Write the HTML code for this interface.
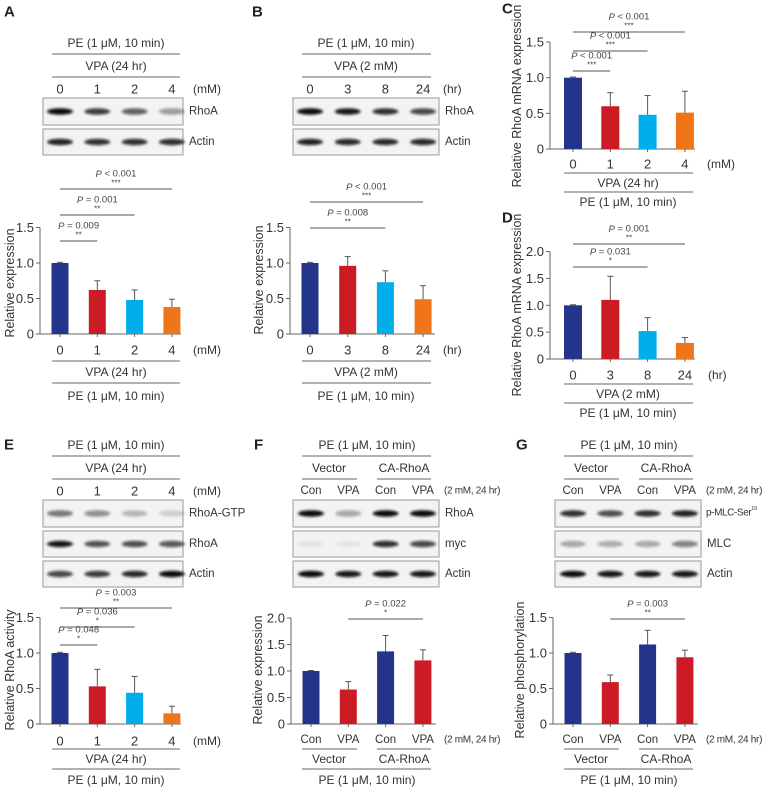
<!DOCTYPE html>
<html><head><meta charset="utf-8"><style>
html,body{margin:0;padding:0;background:#fff}
svg{display:block;font-family:"Liberation Sans",sans-serif}
</style></head><body>
<svg id="fig" width="764" height="787" viewBox="0 0 764 787">
<defs><filter id="blur" x="-50%" y="-200%" width="200%" height="500%"><feGaussianBlur stdDeviation="1.3"/></filter></defs>
</svg>
<script>
// ---- chart data ----
const aCats=["0","1","2","4"], aVals=[1.0,0.62,0.48,0.38], aErrs=[0.01,0.13,0.14,0.11];
const bCats=["0","3","8","24"], bVals=[1.0,0.96,0.73,0.49], bErrs=[0.01,0.13,0.16,0.19];
const cCats=["0","1","2","4"], cVals=[1.0,0.60,0.48,0.51], cErrs=[0.01,0.19,0.27,0.30];
const dCats=["0","3","8","24"], dVals=[1.0,1.10,0.52,0.30], dErrs=[0.01,0.44,0.25,0.10];
const eCats=["0","1","2","4"], eVals=[1.0,0.53,0.44,0.15], eErrs=[0.01,0.24,0.23,0.10];
const fCats=["Con","VPA","Con","VPA"], fVals=[1.0,0.65,1.37,1.20], fErrs=[0.01,0.15,0.30,0.20];
const gCats=["Con","VPA","Con","VPA"], gVals=[1.0,0.59,1.12,0.94], gErrs=[0.01,0.10,0.20,0.10];
const ticks15=[0,0.5,1.0,1.5], ticks15Labels=["0","0.5","1.0","1.5"];
const ticks20=[0,0.5,1.0,1.5,2.0], ticks20Labels=["0","0.5","1.0","1.5","2.0"];
const aSigTo=[3,2,1], aSigP=["< 0.001","= 0.001","= 0.009"], aSigS=["***","**","**"];
const bSigTo=[3,2], bSigP=["< 0.001","= 0.008"], bSigS=["***","**"];
const cSigTo=[3,2,1], cSigP=["< 0.001","< 0.001","< 0.001"], cSigS=["***","***","***"];
const dSigTo=[3,2], dSigP=["= 0.001","= 0.031"], dSigS=["**","*"];
const eSigTo=[3,2,1], eSigP=["= 0.003","= 0.036","= 0.048"], eSigS=["**","*","*"];
const fSigTo=[3], fSigP=["= 0.022"], fSigS=["*"];
const gSigTo=[3], gSigP=["= 0.003"], gSigS=["**"];
const C4=["#24348a","#cc1b24","#00aeeb","#f07418"], CF=["#24348a","#cc1b24","#24348a","#cc1b24"];

const NS="http://www.w3.org/2000/svg";
const svg=document.getElementById('fig');
function mk(tag,attrs,name,parent){
  const el=document.createElementNS(NS,tag);
  for(const k in attrs) el.setAttribute(k,attrs[k]);
  
  
  (parent||svg).appendChild(el); return el;
}
function txt(x,y,s,name,o){o=o||{};
  const el=mk('text',{x:x,y:y,'font-size':o.fs||12,'text-anchor':o.anchor||'middle',fill:o.fill||'#333','font-weight':o.fw||'normal','dominant-baseline':'central'},name,o.parent);
  if(o.ls) el.setAttribute('letter-spacing',o.ls);
  el.textContent=s; return el;}
function ln(x1,y1,x2,y2,name,c,w){return mk('line',{x1:x1,y1:y1,x2:x2,y2:y2,stroke:c||'#666','stroke-width':w||1},name);}

function chart(id,cfg,cats,vals,errs,ticks,tlabels,colors,sigTo,sigP,sigS){
  const g=mk('g',{},id+'-chart');
  const y=v=>cfg.y0-v*cfg.ppu;
  const x=i=>cfg.xc0+i*cfg.step;
  mk('line',{x1:cfg.x0,y1:y(ticks[ticks.length-1]),x2:cfg.x0,y2:cfg.y0,stroke:'#666'},id+'-y-axis',g);
  ticks.forEach((t,i)=>{
    mk('line',{x1:cfg.x0-4,y1:y(t),x2:cfg.x0,y2:y(t),stroke:'#666'},id+'-y-tick',g);
    txt(cfg.x0-6,y(t),tlabels[i],id+'-y-tick-label',{fs:13,anchor:'end',parent:g});
  });
  mk('line',{x1:cfg.x0,y1:cfg.y0,x2:cfg.xEnd,y2:cfg.y0,stroke:'#666'},id+'-x-axis',g);
  vals.forEach((v,i)=>{
    const top=v+errs[i];
    mk('line',{x1:x(i),y1:y(v),x2:x(i),y2:y(top),stroke:'#555'},id+'-error-bar',g);
    mk('line',{x1:x(i)-3,y1:y(top),x2:x(i)+3,y2:y(top),stroke:'#555'},id+'-error-cap',g);
    mk('rect',{x:x(i)-cfg.bw/2,y:y(v),width:cfg.bw,height:v*cfg.ppu,fill:colors[i]},id+'-bar-'+i,g);
    mk('line',{x1:x(i),y1:cfg.y0,x2:x(i),y2:cfg.y0+3,stroke:'#666'},id+'-x-tick',g);
    txt(x(i),cfg.labY,cats[i],id+'-x-label',{fs:cfg.catFs||13,parent:g});
  });
  sigTo.forEach((j,k)=>{
    const ly=cfg.sigY[k], from=cfg.sigFrom||0;
    mk('line',{x1:x(from),y1:ly,x2:x(j),y2:ly,stroke:'#555'},id+'-sig-line',g);
    const t=mk('text',{x:(x(from)+x(j))/2,y:ly-15,'font-size':9.5,'text-anchor':'middle',fill:'#444','dominant-baseline':'central'},id+'-p-value',g);
    const ts=document.createElementNS(NS,'tspan'); ts.setAttribute('font-style','italic'); ts.textContent='P'; t.appendChild(ts);
    t.appendChild(document.createTextNode(' '+sigP[k]));
    txt((x(from)+x(j))/2,ly-6,sigS[k],id+'-stars',{fs:8,parent:g,fill:'#444'});
  });
  const yl=mk('text',{x:0,y:0,'font-size':12.5,'text-anchor':'middle',fill:'#333','dominant-baseline':'central',transform:'translate('+cfg.ylX+','+cfg.ylY+') rotate(-90)'},id+'-y-axis-title',g);
  yl.textContent=cfg.ylabel;
}
function blot(id,x,y,w,h,lanes,ints,label,name){
  mk('rect',{x:x,y:y,width:w,height:h,fill:'#f3f3f3',stroke:'#999'},id+'-blot-'+name);
  ints.forEach((v,i)=>{
    mk('ellipse',{cx:lanes[i],cy:y+h/2,rx:13,ry:3.2,fill:'#111','fill-opacity':v,filter:'url(#blur)'},id+'-band');
  });
  if(label) txt(x+w+6,y+h/2,label,id+'-blot-label',{fs:11.5,anchor:'start'});
}
function letter(s,x,y){txt(x,y,s,'panel-label-'+s.toLowerCase(),{fs:15,fw:'bold',anchor:'start',fill:'#222'});}
const lanes=(c,s)=>[0,1,2,3].map(i=>c+i*s);

// ---- Panel A ----
letter('A',4,12);
txt(116,43,'PE (1 μM, 10 min)','a-pe-header',{fs:12});
ln(52,54,180,54,'a-header-line');
txt(116,66,'VPA (24 hr)','a-vpa-header',{fs:12});
ln(52,77,180,77,'a-header-line');
aCats.forEach((c,i)=>txt(60+i*37.3,89,c,'a-lane-label',{fs:13}));
txt(193,89,'(mM)','a-unit',{fs:12,anchor:'start'});
blot('a',43,98,140,27,lanes(60,37.3),[1,0.8,0.65,0.4],'RhoA','rhoa');
blot('a',43,129,140,26,lanes(60,37.3),[0.9,0.85,0.85,0.85],'Actin','actin');
chart('a',{x0:40,xEnd:181,y0:334,ppu:71,xc0:60,step:37.3,bw:17,labY:350,sigY:[189,215,241],ylX:10,ylY:283,ylabel:'Relative expression'},aCats,aVals,aErrs,ticks15,ticks15Labels,C4,aSigTo,aSigP,aSigS);
txt(193,350,'(mM)','a-x-unit',{fs:12,anchor:'start'});
ln(52,361,180,361,'a-footer-line'); txt(116,372,'VPA (24 hr)','a-vpa-footer',{fs:12});
ln(52,383,180,383,'a-footer-line'); txt(116,396,'PE (1 μM, 10 min)','a-pe-footer',{fs:12});

// ---- Panel B ----
letter('B',252,12);
txt(366,43,'PE (1 μM, 10 min)','b-pe-header',{fs:12});
ln(302,54,431,54,'b-header-line');
txt(366,66,'VPA (2 mM)','b-vpa-header',{fs:12});
ln(302,77,431,77,'b-header-line');
bCats.forEach((c,i)=>txt(310+i*37.7,89,c,'b-lane-label',{fs:13}));
txt(443,89,'(hr)','b-unit',{fs:12,anchor:'start'});
blot('b',293,98,146,27,lanes(310,37.7),[1,0.95,0.85,0.75],'RhoA','rhoa');
blot('b',293,129,146,26,lanes(310,37.7),[0.9,0.88,0.88,0.88],'Actin','actin');
chart('b',{x0:290,xEnd:435,y0:334,ppu:71,xc0:310,step:37.7,bw:17,labY:350,sigY:[202,228],ylX:259,ylY:280,ylabel:'Relative expression'},bCats,bVals,bErrs,ticks15,ticks15Labels,C4,bSigTo,bSigP,bSigS);
txt(443,350,'(hr)','b-x-unit',{fs:12,anchor:'start'});
ln(302,361,431,361,'b-footer-line'); txt(366,372,'VPA (2 mM)','b-vpa-footer',{fs:12});
ln(302,383,431,383,'b-footer-line'); txt(366,396,'PE (1 μM, 10 min)','b-pe-footer',{fs:12});

// ---- Panel C ----
letter('C',502,9);
chart('c',{x0:550,xEnd:695,y0:149,ppu:71.3,xc0:573,step:37.3,bw:18,labY:164,sigY:[32,51,71],ylX:517,ylY:96,ylabel:'Relative RhoA mRNA expression'},cCats,cVals,cErrs,ticks15,ticks15Labels,C4,cSigTo,cSigP,cSigS);
txt(707,164,'(mM)','c-x-unit',{fs:12,anchor:'start'});
ln(564,173,693,173,'c-footer-line'); txt(628,183,'VPA (24 hr)','c-vpa-footer',{fs:12});
ln(564,192,693,192,'c-footer-line'); txt(628,202,'PE (1 μM, 10 min)','c-pe-footer',{fs:12});

// ---- Panel D ----
letter('D',502,218);
chart('d',{x0:550,xEnd:695,y0:359,ppu:53.7,xc0:573,step:37.3,bw:18,labY:375,sigY:[244,267],ylX:517,ylY:305,ylabel:'Relative RhoA mRNA expression'},dCats,dVals,dErrs,ticks20,ticks20Labels,C4,dSigTo,dSigP,dSigS);
txt(708,375,'(hr)','d-x-unit',{fs:12,anchor:'start'});
ln(564,384,693,384,'d-footer-line'); txt(628,394,'VPA (2 mM)','d-vpa-footer',{fs:12});
ln(564,403,693,403,'d-footer-line'); txt(628,413,'PE (1 μM, 10 min)','d-pe-footer',{fs:12});

// ---- Panel E ----
letter('E',4,445);
txt(116,445,'PE (1 μM, 10 min)','e-pe-header',{fs:12});
ln(52,456,180,456,'e-header-line');
txt(116,468,'VPA (24 hr)','e-vpa-header',{fs:12});
ln(52,479,180,479,'e-header-line');
eCats.forEach((c,i)=>txt(60+i*37.3,491,c,'e-lane-label',{fs:13}));
txt(193,491,'(mM)','e-unit',{fs:12,anchor:'start'});
blot('e',43,500,140,27,lanes(60,37.3),[0.55,0.45,0.25,0.15],'RhoA-GTP','rhoa-gtp');
blot('e',43,531,140,26,lanes(60,37.3),[0.95,0.7,0.72,0.68],'RhoA','rhoa');
blot('e',43,561,140,26,lanes(60,37.3),[0.75,0.8,0.88,1],'Actin','actin');
chart('e',{x0:40,xEnd:181,y0:724,ppu:71,xc0:60,step:37.3,bw:17,labY:741,sigY:[608,627,645],ylX:10,ylY:670,ylabel:'Relative RhoA activity'},eCats,eVals,eErrs,ticks15,ticks15Labels,C4,eSigTo,eSigP,eSigS);
txt(193,741,'(mM)','e-x-unit',{fs:12,anchor:'start'});
ln(52,749,180,749,'e-footer-line'); txt(116,759,'VPA (24 hr)','e-vpa-footer',{fs:12});
ln(52,769,180,769,'e-footer-line'); txt(116,780,'PE (1 μM, 10 min)','e-pe-footer',{fs:12});

// ---- Panels F & G ----
function fg(id,L,dx,cats,vals,errs,ticks,tl,sigP,sigS,sigTo,blots,ylabel){
  letter(L,254+dx,445);
  txt(367+dx,445,'PE (1 μM, 10 min)',id+'-pe-header',{fs:12});
  ln(302+dx,456,431+dx,456,id+'-header-line');
  txt(329+dx,468,'Vector',id+'-vector-header',{fs:12});
  txt(404+dx,468,'CA-RhoA',id+'-ca-rhoa-header',{fs:12});
  ln(302+dx,479,357+dx,479,id+'-header-line'); ln(377+dx,479,431+dx,479,id+'-header-line');
  cats.forEach((c,i)=>txt(311+dx+i*37.3,491,c,id+'-lane-label',{fs:11.5}));
  txt(444+dx,491,'(2 mM, 24 hr)',id+'-unit',{fs:10,anchor:'start',ls:'-0.3'});
  const lx=lanes(311+dx,37.3);
  blot(id,293+dx,500,146,27,lx,blots[0],blots[3]?null:'RhoA',blots[3]?'p-mlc':'rhoa');
  if(blots[3]){const t=txt(444+dx,513,'p-MLC-Ser',id+'-blot-label',{fs:10,anchor:'start',ls:'-0.4'});
    const s=document.createElementNS(NS,'tspan'); s.setAttribute('font-size','5.5'); s.setAttribute('dy','-4'); s.textContent='19'; t.appendChild(s);}
  blot(id,293+dx,531,146,26,lx,blots[1],blots[3]?'MLC':'myc',blots[3]?'mlc':'myc');
  blot(id,293+dx,561,146,26,lx,blots[2],'Actin','actin');
  chart(id,{x0:291+dx,xEnd:436+dx,y0:724,ppu:ticks.length>4?53:71,xc0:311+dx,step:37.3,bw:17,labY:740,catFs:11.5,sigY:[619],sigFrom:1,ylX:258+dx,ylY:670,ylabel:ylabel},cats,vals,errs,ticks,tl,CF,sigTo,sigP,sigS);
  txt(444+dx,740,'(2 mM, 24 hr)',id+'-x-unit',{fs:10,anchor:'start',ls:'-0.3'});
  ln(302+dx,749,357+dx,749,id+'-footer-line'); ln(377+dx,749,431+dx,749,id+'-footer-line');
  txt(329+dx,759,'Vector',id+'-vector-footer',{fs:12});
  txt(404+dx,759,'CA-RhoA',id+'-ca-rhoa-footer',{fs:12});
  ln(302+dx,769,431+dx,769,id+'-footer-line');
  txt(367+dx,780,'PE (1 μM, 10 min)',id+'-pe-footer',{fs:12});
}
fg('f','F',0,fCats,fVals,fErrs,ticks20,ticks20Labels,fSigP,fSigS,fSigTo,
  [[1,0.35,1,1],[0.06,0.06,0.85,0.75],[1,0.95,0.95,0.95]],'Relative expression');
fg('g','G',262,gCats,gVals,gErrs,ticks15,ticks15Labels,gSigP,gSigS,gSigTo,
  [[0.85,0.72,0.85,0.9],[0.3,0.28,0.3,0.5],[1,0.95,0.95,0.95],true],'Relative phosphorylation');
</script>
</body></html>
